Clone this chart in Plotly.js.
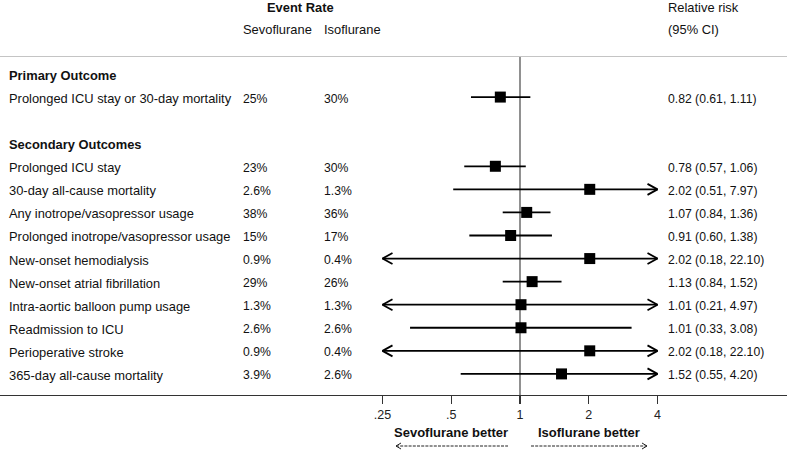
<!DOCTYPE html>
<html><head><meta charset="utf-8">
<script src="https://cdn.plot.ly/plotly-3.0.1.min.js"></script>
<style>html,body{margin:0;padding:0;background:#fff}#chart{width:787px;height:450px}</style>
</head><body><div id="chart"></div>
<script>
// ---------- data ----------
const groups = ['Primary Outcome', 'Secondary Outcomes'];
const outcomes = [
  'Prolonged ICU stay or 30-day mortality',
  'Prolonged ICU stay',
  '30-day all-cause mortality',
  'Any inotrope/vasopressor usage',
  'Prolonged inotrope/vasopressor usage',
  'New-onset hemodialysis',
  'New-onset atrial fibrillation',
  'Intra-aortic balloon pump usage',
  'Readmission to ICU',
  'Perioperative stroke',
  '365-day all-cause mortality'
];
const outcomeGroup = [0, 1, 1, 1, 1, 1, 1, 1, 1, 1, 1];
const sevoRate = ['25%', '23%', '2.6%', '38%', '15%', '0.9%', '29%', '1.3%', '2.6%', '0.9%', '3.9%'];
const isoRate  = ['30%', '30%', '1.3%', '36%', '17%', '0.4%', '26%', '1.3%', '2.6%', '0.4%', '2.6%'];
const rr    = [0.82, 0.78, 2.02, 1.07, 0.91, 2.02, 1.13, 1.01, 1.01, 2.02, 1.52];
const ciLow = [0.61, 0.57, 0.51, 0.84, 0.60, 0.18, 0.84, 0.21, 0.33, 0.18, 0.55];
const ciHigh= [1.11, 1.06, 7.97, 1.36, 1.38, 22.10, 1.52, 4.97, 3.08, 22.10, 4.20];
const tickVals = [0.25, 0.5, 1, 2, 4];
const tickText = ['.25', '.5', '1', '2', '4'];
const displayMin = 0.25, displayMax = 4;
const colHeaderGroup = 'Event Rate';
const colHeaders = ['Sevoflurane', 'Isoflurane'];
const rrHeader = ['Relative risk', '(95% CI)'];
const favourLabels = ['Sevoflurane better', 'Isoflurane better'];

// ---------- layout geometry ----------
const W = 787, H = 450;
const ROW0_PX = 74, ROW_PX = 23.07;
const REF_PX = 520, DOUBLING_PX = 68.75;
const LOG2 = Math.log10(2);
const xRange = [LOG2 * (0 - REF_PX) / DOUBLING_PX, LOG2 * (W - REF_PX) / DOUBLING_PX];
const yRange = [(H - ROW0_PX) / ROW_PX, -ROW0_PX / ROW_PX];
const AXIS_PX = 395, TOPLINE_PX = 56.5;
const py = p => 1 - p / H;
const px = p => p / W;
const FONT = 'Liberation Sans, Arial, Helvetica, sans-serif';
const TXT = '#111';
const WORD_SIZE = 12.9, NUM_SIZE = 12.2;

// assign rows
const headingRows = [];
const itemRows = new Array(outcomes.length);
let r = 0;
groups.forEach((g, gi) => {
  headingRows.push(r); r++;
  outcomes.forEach((o, i) => { if (outcomeGroup[i] === gi) { itemRows[i] = r; r++; } });
  r++;
});

// CI lines and arrowheads
const lineX = [], lineY = [], headX = [], headY = [];
const ARROW_LEN = 10, ARROW_HALF = 5.5;
const f = Math.pow(2, -ARROW_LEN / DOUBLING_PX);
const dy = ARROW_HALF / ROW_PX;
outcomes.forEach((o, i) => {
  const y = itemRows[i];
  const lo = Math.max(ciLow[i], displayMin);
  const hi = Math.min(ciHigh[i], displayMax);
  lineX.push(lo, hi, null); lineY.push(y, y, null);
  if (ciHigh[i] > displayMax) { headX.push(hi * f, hi, hi * f, null); headY.push(y - dy, y, y + dy, null); }
  if (ciLow[i] < displayMin) { headX.push(lo / f, lo, lo / f, null); headY.push(y - dy, y, y + dy, null); }
});

const traces = [
  {x: lineX, y: lineY, mode: 'lines', line: {color: '#000', width: 1.8}, hoverinfo: 'skip', cliponaxis: false},
  {x: headX, y: headY, mode: 'lines', line: {color: '#000', width: 1.8}, hoverinfo: 'skip', cliponaxis: false},
  {x: rr, y: itemRows, mode: 'markers', marker: {symbol: 'square', size: 11, color: '#000', line: {width: 0}},
   hoverinfo: 'x', cliponaxis: false}
];

const ann = [];
const addText = (text, xp, yRow, size, opts = {}) => ann.push(Object.assign({
  text, x: px(xp), xref: 'paper', y: yRow, yref: 'y', xanchor: 'left', yanchor: 'middle',
  showarrow: false, borderpad: 0, yshift: -1.5, font: {family: FONT, size: size, color: TXT}
}, opts));

// headers
addText('<b>' + colHeaderGroup + '</b>', 300.5, -3, WORD_SIZE, {xanchor: 'center', yshift: -3});
addText(colHeaders[0], 242, -2, WORD_SIZE);
addText(colHeaders[1], 323, -2, WORD_SIZE);
addText(rrHeader[0], 667, -3, WORD_SIZE, {yshift: -3});
addText(rrHeader[1], 667, -2, WORD_SIZE);
groups.forEach((g, gi) => addText('<b>' + g + '</b>', 8, headingRows[gi], WORD_SIZE));
outcomes.forEach((o, i) => {
  const y = itemRows[i];
  addText(o, 8, y, WORD_SIZE);
  addText(sevoRate[i], 242, y, NUM_SIZE);
  addText(isoRate[i], 323, y, NUM_SIZE);
  addText(rr[i].toFixed(2) + ' (' + ciLow[i].toFixed(2) + ', ' + ciHigh[i].toFixed(2) + ')', 667, y, NUM_SIZE);
});
// favour labels
favourLabels.forEach((lab, k) => ann.push({text: '<b>' + lab + '</b>', x: Math.log10(k === 0 ? 0.5 : 2), xref: 'x',
  y: py(432), yref: 'paper', xanchor: 'center', yanchor: 'middle', showarrow: false, borderpad: 0,
  font: {family: FONT, size: 13, color: TXT}}));

const shapes = [
  {type: 'line', xref: 'paper', yref: 'paper', x0: 0, x1: 1, y0: py(TOPLINE_PX), y1: py(TOPLINE_PX),
   line: {color: '#c4c4c4', width: 1.2}},
  {type: 'line', xref: 'x', yref: 'paper', x0: 1, x1: 1, y0: py(AXIS_PX), y1: py(TOPLINE_PX),
   line: {color: '#555', width: 1.3}, layer: 'below'},
  // dashed favour arrows
  {type: 'line', xref: 'paper', yref: 'paper', x0: px(396), x1: px(508), y0: py(446), y1: py(446),
   line: {color: '#222', width: 1, dash: '3px,1.2px'}},
  {type: 'path', xref: 'paper', yref: 'paper',
   path: `M ${px(401)} ${py(443)} L ${px(396)} ${py(446)} L ${px(401)} ${py(449)}`,
   line: {color: '#222', width: 1}},
  {type: 'line', xref: 'paper', yref: 'paper', x0: px(531), x1: px(647), y0: py(446), y1: py(446),
   line: {color: '#222', width: 1, dash: '3px,1.2px'}},
  {type: 'path', xref: 'paper', yref: 'paper',
   path: `M ${px(642)} ${py(443)} L ${px(647)} ${py(446)} L ${px(642)} ${py(449)}`,
   line: {color: '#222', width: 1}}
];

const layout = {
  width: W, height: H,
  margin: {l: 0, r: 0, t: 0, b: 0, pad: 0},
  paper_bgcolor: '#fff', plot_bgcolor: '#fff',
  showlegend: false,
  font: {family: FONT, size: 12, color: TXT},
  xaxis: {
    type: 'log', range: xRange, anchor: 'free', position: py(AXIS_PX),
    showline: true, linecolor: '#333', linewidth: 1.3, mirror: false,
    ticks: 'outside', ticklen: 8, tickwidth: 1.3, tickcolor: '#333',
    tickvals: tickVals, ticktext: tickText, tickfont: {family: FONT, size: 12.5, color: '#222'},
    showgrid: false, zeroline: false, fixedrange: true
  },
  yaxis: {range: yRange, visible: false, showgrid: false, zeroline: false, fixedrange: true},
  annotations: ann,
  shapes: shapes
};

Plotly.newPlot('chart', traces, layout, {displayModeBar: false, staticPlot: true});
</script>
</body></html>
